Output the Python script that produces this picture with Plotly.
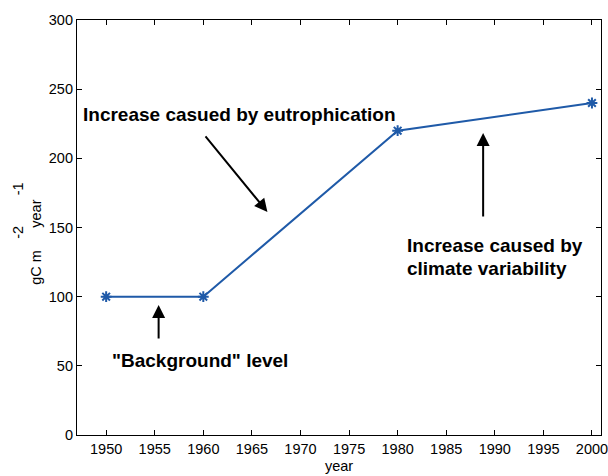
import plotly.graph_objects as go

years = [1950, 1960, 1980, 2000]
production = [100, 100, 220, 240]
x_ticks = list(range(1950, 2001, 5))
y_ticks = list(range(0, 301, 50))

FONT = "Liberation Sans, Arial, Helvetica, sans-serif"

fig = go.Figure()
fig.add_trace(go.Scatter(
    x=years, y=production, mode="lines+markers",
    line=dict(color="#1f5aa8", width=2),
    marker=dict(symbol="asterisk-open", size=9, line=dict(color="#1f5aa8", width=2)),
    showlegend=False,
))

bold = dict(family=FONT, size=19, color="black")
reg = dict(family=FONT, size=14.5, color="black")
ann = [
    dict(x=1947.4, y=232, text="<b>Increase casued by eutrophication</b>", showarrow=False,
         xanchor="left", yanchor="middle", font=bold),
    dict(x=1980.8, y=136.8, text="<b>Increase caused by</b>", showarrow=False,
         xanchor="left", yanchor="middle", font=bold),
    dict(x=1980.8, y=120.5, text="<b>climate variability</b>", showarrow=False,
         xanchor="left", yanchor="middle", font=bold),
    dict(x=1950.4, y=54.2, text="<b>\"Background\" level</b>", showarrow=False,
         xanchor="left", yanchor="middle", font=bold),
    # y-axis label (MATLAB-style widely spaced superscripts)
    dict(x=-0.0797, y=0.4036, xref="paper", yref="paper", text="gC m", textangle=-90,
         showarrow=False, xanchor="center", yanchor="middle", font=reg),
    dict(x=-0.112, y=0.488, xref="paper", yref="paper", text="-2", textangle=-90,
         showarrow=False, xanchor="center", yanchor="middle", font=reg),
    dict(x=-0.0797, y=0.5337, xref="paper", yref="paper", text="year", textangle=-90,
         showarrow=False, xanchor="center", yanchor="middle", font=reg),
    dict(x=-0.112, y=0.5928, xref="paper", yref="paper", text="-1", textangle=-90,
         showarrow=False, xanchor="center", yanchor="middle", font=reg),
]
arrows = [
    ((1960.1, 216.9), (1966.6, 161.2)),
    ((1988.8, 156.9), (1988.8, 218.3)),
    ((1955.4, 68.7), (1955.4, 94.0)),
]
for (tx, ty), (hx, hy) in arrows:
    ann.append(dict(x=hx, y=hy, ax=tx, ay=ty, xref="x", yref="y", axref="x", ayref="y",
                    text="", showarrow=True, arrowhead=2, arrowsize=1.3, arrowwidth=2,
                    arrowcolor="black"))

axis_common = dict(showgrid=False, zeroline=False, showline=True, linecolor="black",
                   linewidth=1.2, mirror="ticks", ticks="inside", ticklen=5,
                   tickcolor="black", automargin=False, ticklabeloverflow="allow",
                   tickfont=dict(family=FONT, size=14.5, color="black"))

fig.update_layout(
    width=608, height=476,
    margin=dict(l=77, r=7, t=20, b=41),
    plot_bgcolor="white", paper_bgcolor="white",
    xaxis=dict(range=[1947, 2000.93], tickvals=x_ticks, **axis_common,
               title=dict(text="year", font=dict(family=FONT, size=14.5, color="black"), standoff=5)),
    yaxis=dict(range=[0, 300], tickvals=y_ticks, **axis_common),
    annotations=ann,
)

fig.write_html("out.html", config={"displayModeBar": False},
               post_script="document.body.style.margin='0';document.body.style.overflow='hidden';")
